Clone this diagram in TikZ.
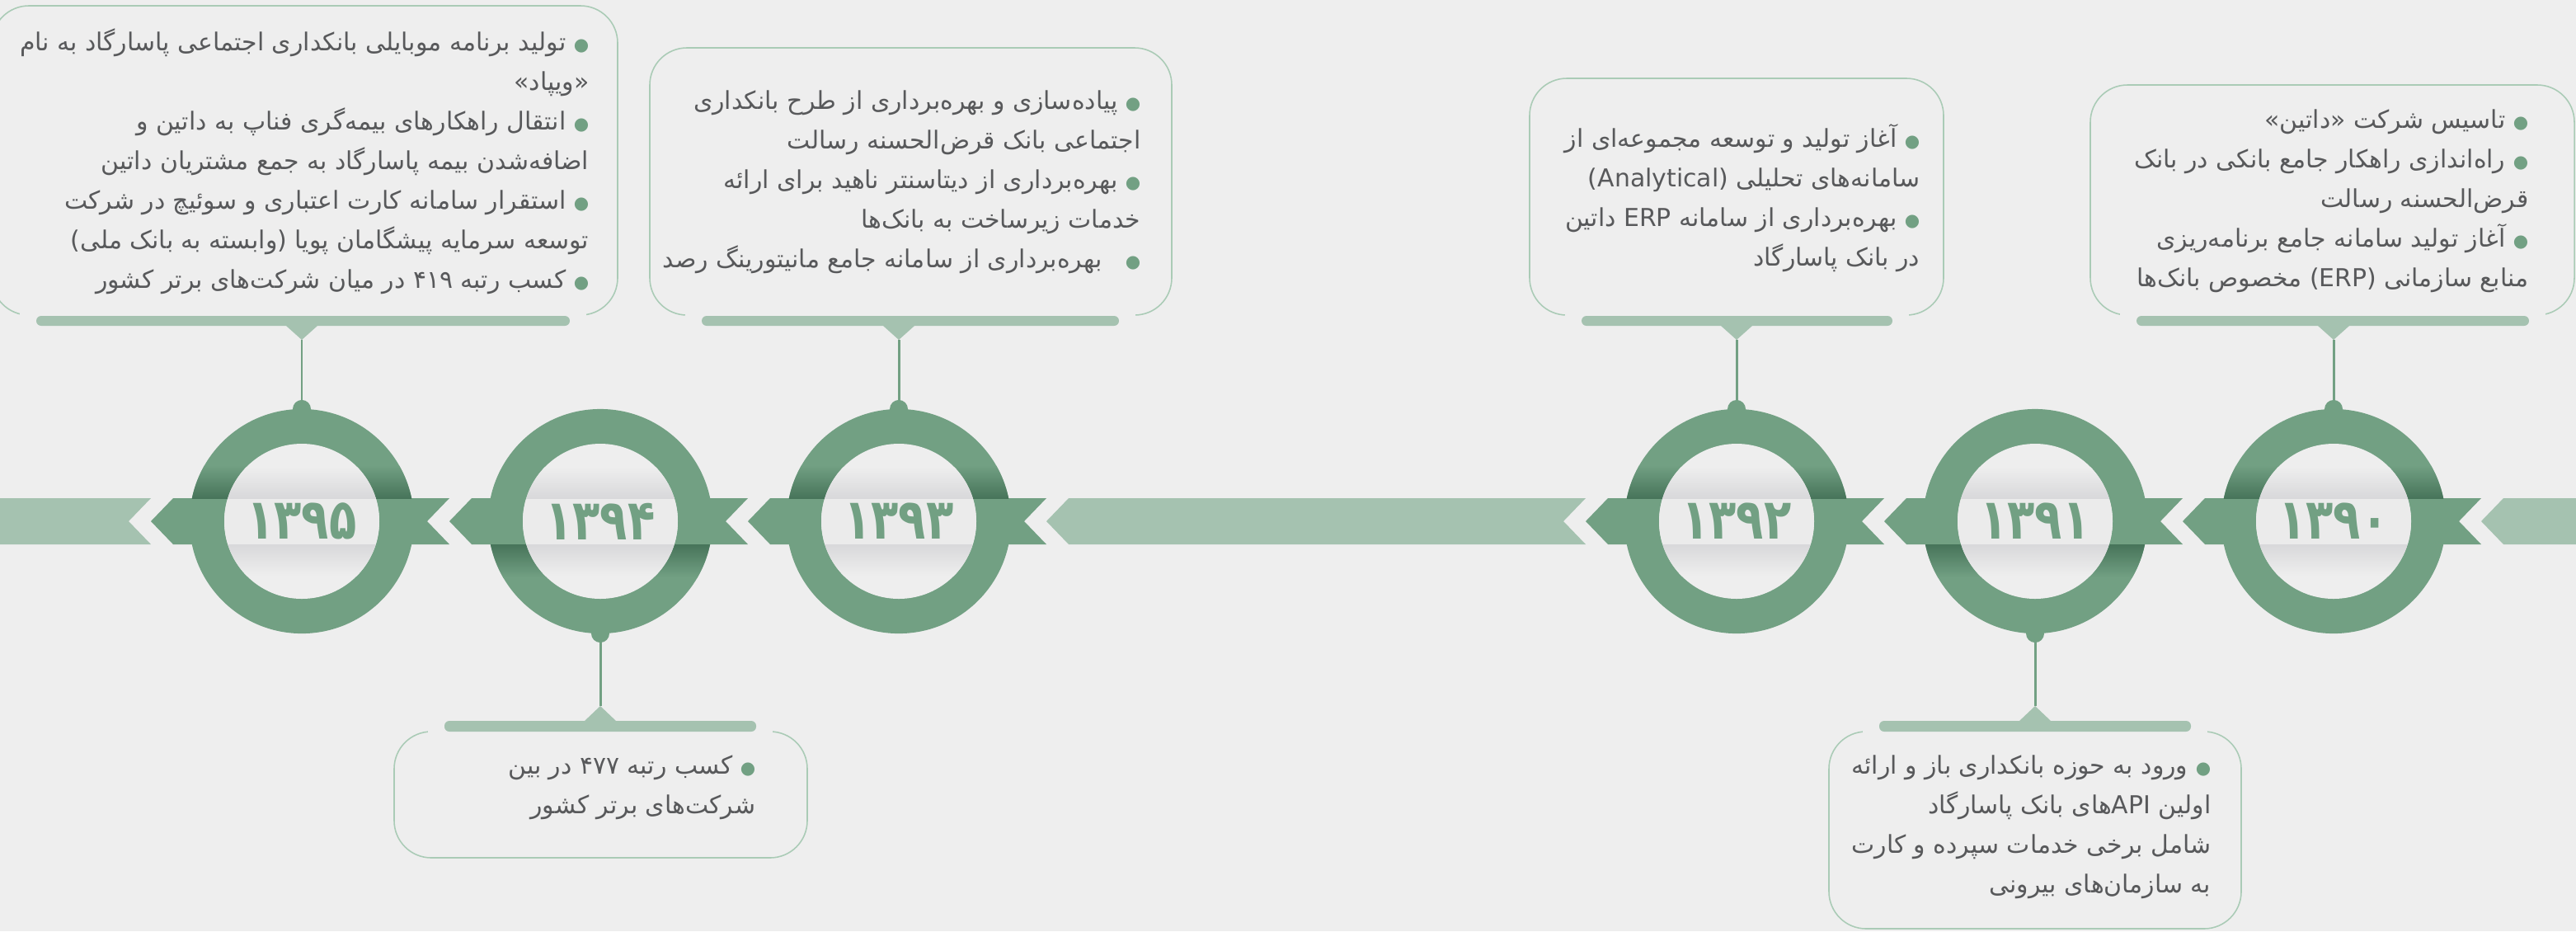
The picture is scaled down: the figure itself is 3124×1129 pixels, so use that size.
\documentclass[tikz,border=0pt]{standalone}
\usepackage{fontspec}
\usetikzlibrary{fit}
\TeXXeTstate=1
\newfontfamily\fafont[Script=Arabic]{DejaVu Sans}
\newfontfamily\yearfont[Script=Arabic]{DejaVu Sans}
\definecolor{bgc}{HTML}{EEEEEE}
\definecolor{ringgreen}{HTML}{72A083}
\definecolor{ringdark}{HTML}{47745A}
\definecolor{barc}{HTML}{A5C2B0}
\definecolor{boxline}{HTML}{AACBB6}
\definecolor{bandlight}{HTML}{EBEBEB}
\definecolor{innershade}{HTML}{D8D8DA}
\definecolor{txtc}{HTML}{58595B}
\newcommand{\zw}{^^^^200c}
\newcommand{\itemdot}{{\color{ringgreen}\fontsize{6}{6}\selectfont ●}}
% a right-to-left line, with or without a bullet on its right
\newcommand{\rtline}[1]{\beginR #1\endR}
\newcommand{\bline}[1]{\beginR #1\endR\ \itemdot}
\begin{document}
\begin{tikzpicture}[x=0.01cm, y=-0.01cm, line join=round,
    ring/.style={circle, fill=ringgreen, minimum size=2.72cm, inner sep=0pt, outer sep=0pt},
    yearlbl/.style={font=\yearfont\bfseries\fontsize{15.5}{15.5}\selectfont, text=ringgreen, inner sep=0pt},
    infobox/.style={draw=boxline, line width=0.45pt, rounded corners=12.8pt, inner sep=0pt},
    itemtxt/.style={font=\fafont\fontsize{8.5}{13.66}\selectfont, text=txtc, align=right, inner sep=0pt, anchor=north east},
    link/.style={draw=ringgreen, line width=0.85pt}]
  \useasboundingbox (0,0) rectangle (3124,1129);
  \clip (0,0) rectangle (3124,1129);
  \fill[bgc] (0,0) rectangle (3124,1129);
  % light band pieces
  \fill[barc] (-5,604) -- (183,604) -- (156,632) -- (183,660) -- (-5,660) -- cycle;
  \fill[barc] (1269,632) -- (1296,604) -- (1923,604) -- (1896,632) -- (1923,660) -- (1296,660) -- cycle;
  \fill[barc] (3009,632) -- (3036,604) -- (3130,604) -- (3130,660) -- (3036,660) -- cycle;
  % year rings
  \foreach \c/\n/\yr/\s in {366/95/{۱۳۹۵}/-1, 728/94/{۱۳۹۴}/1, 1090/93/{۱۳۹۳}/-1,
      2106/92/{۱۳۹۲}/-1, 2468/91/{۱۳۹۱}/1, 2830/90/{۱۳۹۰}/-1} {
    \fill[ringgreen] (\c-183,632) -- (\c-156,604) -- (\c+179,604) -- (\c+152,632)
      -- (\c+179,660) -- (\c-156,660) -- cycle;
    \node[ring] (R\n) at (\c,632) {};
    \begin{scope}
      \clip (R\n.center) circle (136);
      \shade[top color=ringgreen, bottom color=ringdark, shading angle={90+90*\s}]
        (\c-140,632+28*\s) rectangle (\c+140,632+68*\s);
    \end{scope}
    \fill[bgc] (R\n.center) circle (94);
    \begin{scope}
      \clip (R\n.center) circle (94);
      \fill[bandlight] (\c-94,604) rectangle (\c+94,660);
      \shade[top color=bgc, bottom color=innershade] (\c-94,566) rectangle (\c+94,604);
      \shade[top color=innershade, bottom color=bgc] (\c-94,660) rectangle (\c+94,698);
    \end{scope}
    \node[yearlbl] (L\n) at (R\n) {\scalebox{1}[1.25]{\yr}};
  }
  % boxes
  \node[infobox, fit={(-10,7) (749,382)}] (B95) {};
  \node[infobox, fit={(788,58) (1421,382)}] (B93) {};
  \node[infobox, fit={(1855,95) (2357,382)}] (B92) {};
  \node[infobox, fit={(2535,103) (3122,382)}] (B90) {};
  \node[infobox, fit={(478,887) (979,1040)}] (B94) {};
  \node[infobox, fit={(2218,887) (2718,1126)}] (B91) {};
  % tabs and connectors
  \foreach \n/\a/\b/\m in {95/44/691/366, 93/851/1357/1090, 92/1918/2295/2106, 90/2591/3067/2830} {
    \fill[bgc] (\a-20,376) rectangle (\b+20,399);
    \fill[barc, rounded corners=1.7pt] (\a,383) rectangle (\b,395);
    \fill[barc] (\m-19,395) -- (\m+19,395) -- (\m,412) coordinate (A\n) -- cycle;
    \draw[link] (A\n) -- (R\n.north);
    \fill[ringgreen] (R\n.north) circle (11);
  }
  \foreach \n/\a/\b/\m in {94/539/917/728, 91/2279/2657/2468} {
    \fill[bgc] (\a-20,868) rectangle (\b+20,893);
    \fill[barc, rounded corners=1.7pt] (\a,874) rectangle (\b,887);
    \fill[barc] (\m-19,874) -- (\m+19,874) -- (\m,856) coordinate (A\n) -- cycle;
    \draw[link] (A\n) -- (R\n.south);
    \fill[ringgreen] (R\n.south) circle (11);
  }
  % texts
  \node[itemtxt] (T95) at (715,34) {\bline{تولید برنامه موبایلی بانکداری اجتماعی پاسارگاد به نام}\\
    \rtline{«ویپاد»}\\
    \bline{انتقال راهکارهای بیمه\zw گری فناپ به داتین و}\\
    \rtline{اضافه\zw شدن بیمه پاسارگاد به جمع مشتریان داتین}\\
    \bline{استقرار سامانه کارت اعتباری و سوئیچ در شرکت}\\
    \rtline{توسعه سرمایه پیشگامان پویا (وابسته به بانک ملی)}\\
    \bline{کسب رتبه ۴۱۹ در میان شرکت\zw های برتر کشور}};
  \node[itemtxt] (T93) at (1384,109) {\bline{پیاده\zw سازی و بهره\zw برداری از طرح بانکداری}\\
    \rtline{اجتماعی بانک قرض\zw الحسنه رسالت}\\
    \bline{بهره\zw برداری از دیتاسنتر ناهید برای ارائه}\\
    \rtline{خدمات زیرساخت به بانک\zw ها}\\
    \bline{\ \ بهره\zw برداری از سامانه جامع مانیتورینگ رصد}};
  \node[itemtxt] (T92) at (2329,150) {\bline{آغاز تولید و توسعه مجموعه\zw ای از}\\
    \rtline{سامانه\zw های تحلیلی \beginL(Analytical)\endL}\\
    \bline{بهره\zw برداری از سامانه \beginL ERP\endL{} داتین}\\
    \rtline{در بانک پاسارگاد}};
  \node[itemtxt] (T90) at (3067,132) {\bline{تاسیس شرکت «داتین»}\\
    \bline{راه\zw اندازی راهکار جامع بانکی در بانک}\\
    \rtline{قرض\zw الحسنه رسالت}\\
    \bline{آغاز تولید سامانه جامع برنامه\zw ریزی}\\
    \rtline{منابع سازمانی \beginL(ERP)\endL{} مخصوص بانک\zw ها}};
  \node[itemtxt] (T94) at (917,915) {\bline{کسب رتبه ۴۷۷ در بین}\\
    \rtline{شرکت\zw های برتر کشور}};
  \node[itemtxt] (T91) at (2682,915) {\bline{ورود به حوزه بانکداری باز و ارائه}\\
    \rtline{اولین \beginL API\endL{}های بانک پاسارگاد}\\
    \rtline{شامل برخی خدمات سپرده و کارت}\\
    \rtline{به سازمان\zw های بیرونی}};
\end{tikzpicture}
\end{document}
